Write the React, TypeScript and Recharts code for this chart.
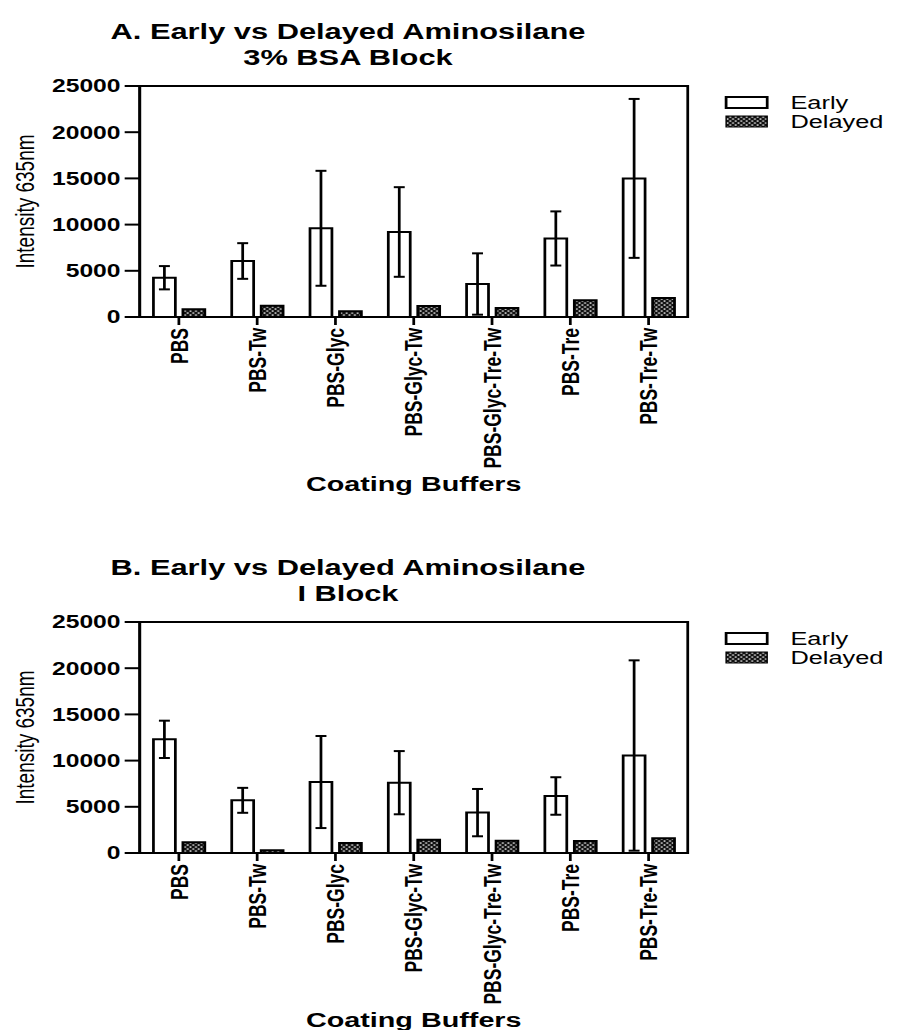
import React from 'react';
import { BarChart, Bar, XAxis, YAxis, ErrorBar, ReferenceArea, Label } from 'recharts';

const categories = ['PBS', 'PBS-Tw', 'PBS-Glyc', 'PBS-Glyc-Tw', 'PBS-Glyc-Tre-Tw', 'PBS-Tre', 'PBS-Tre-Tw'];

// A. 3% BSA block
const earlyA = [4250, 6060, 9600, 9200, 3570, 8500, 15000];
const earlyErrA = [1260, 1930, 6220, 4850, 3320, 2930, 8600];
const delayedA = [830, 1220, 620, 1190, 970, 1800, 2050];

// B. I block
const earlyB = [12300, 5700, 7680, 7610, 4370, 6170, 10550];
const earlyErrB = [2020, 1350, 4980, 3420, 2560, 2030, 10300];
const delayedB = [1150, 290, 1080, 1440, 1330, 1300, 1600];

const yTicks = [0, 5000, 10000, 15000, 20000, 25000];
const seriesNames = ['Early', 'Delayed'];

// the original figure is stretched horizontally, so draw narrow and scale x
const SX = 1.37;
const W = 654;
const PLOT_LEFT = 102;
const PLOT_RIGHT = 502;
const PLOT_TOP = 86;
const PLOT_BOTTOM = 317;
const X_AXIS_H = 170;
const TITLE_CX = 254;
const FONT = '"Liberation Sans", Arial, Helvetica, sans-serif';
const LINE = { stroke: '#000', strokeWidth: 2 };

function Hatch({ id }: { id: string }) {
  return (
    <pattern id={id} width={4} height={4} patternUnits="userSpaceOnUse">
      <rect width={4} height={4} fill="#111" />
      <rect x={0.4} y={0.4} width={1.3} height={1.3} fill="#fff" />
      <rect x={2.4} y={2.4} width={1.3} height={1.3} fill="#fff" />
    </pattern>
  );
}

function XTick(props: any) {
  const { x, y, payload } = props;
  return (
    <text
      x={x}
      y={y}
      transform={`rotate(-90, ${x}, ${y})`}
      textAnchor="end"
      dy="0.36em"
      fontFamily={FONT}
      fontWeight="bold"
      fontSize={17.5}
      fill="#000"
    >
      {payload.value}
    </text>
  );
}

interface PanelProps {
  id: string;
  title: string;
  subtitle: string;
  early: number[];
  earlyErr: number[];
  delayed: number[];
  top: number;
  height: number;
}

function Panel({ id, title, subtitle, early, earlyErr, delayed, top, height }: PanelProps) {
  const data = categories.map((name, i) => ({
    name,
    early: early[i],
    earlyErr: earlyErr[i],
    delayed: delayed[i],
  }));
  const patId = `hatch-${id}`;
  const legendPat = `hatch-legend-${id}`;

  return (
    <div
      style={{
        position: 'absolute',
        left: 0,
        top,
        width: W,
        height,
        transform: `scaleX(${SX})`,
        transformOrigin: '0 0',
      }}
    >
      <BarChart
        width={W}
        height={height}
        data={data}
        margin={{ top: PLOT_TOP, right: W - PLOT_RIGHT, bottom: height - PLOT_BOTTOM - X_AXIS_H, left: 8 }}
        barSize={16}
        barGap={5.5}
      >
        <defs>
          <Hatch id={patId} />
        </defs>
        <XAxis
          dataKey="name"
          interval={0}
          height={X_AXIS_H}
          tick={<XTick />}
          tickSize={8}
          tickMargin={3}
          tickLine={LINE}
          axisLine={LINE}
        >
          <Label
            content={(p: any) => {
              const vb = p.viewBox;
              return (
                <text
                  x={vb.x + vb.width / 2}
                  y={vb.y + 174}
                  textAnchor="middle"
                  fontFamily={FONT}
                  fontWeight="bold"
                  fontSize={21}
                  fill="#000"
                >
                  Coating Buffers
                </text>
              );
            }}
          />
        </XAxis>
        <YAxis
          width={PLOT_LEFT - 8}
          domain={[0, 25000]}
          ticks={yTicks}
          interval={0}
          tickSize={11}
          tickMargin={3}
          tickLine={LINE}
          axisLine={LINE}
          tick={{ fill: '#000', fontFamily: FONT, fontWeight: 'bold', fontSize: 18 }}
        >
          <Label
            content={(p: any) => {
              const vb = p.viewBox;
              const cy = vb.y + vb.height / 2;
              return (
                <text
                  x={18}
                  y={cy}
                  transform={`rotate(-90, 18, ${cy})`}
                  textAnchor="middle"
                  dy="0.36em"
                  fontFamily={FONT}
                  fontSize={19}
                  fill="#000"
                >
                  Intensity 635nm
                </text>
              );
            }}
          />
        </YAxis>
        <ReferenceArea y1={0} y2={25000} fill="none" fillOpacity={0} stroke="#000" strokeWidth={2} ifOverflow="visible" />
        <Bar dataKey="early" name={seriesNames[0]} fill="#fff" stroke="#000" strokeWidth={2} isAnimationActive={false}>
          <ErrorBar dataKey="earlyErr" direction="y" width={4} stroke="#000" strokeWidth={2} />
        </Bar>
        <Bar dataKey="delayed" name={seriesNames[1]} fill={`url(#${patId})`} stroke="#000" strokeWidth={2} isAnimationActive={false} />
      </BarChart>

      <svg width={W} height={140} style={{ position: 'absolute', left: 0, top: 0, pointerEvents: 'none' }}>
        <defs>
          <Hatch id={legendPat} />
        </defs>
        <text x={TITLE_CX} y={39} textAnchor="middle" fontFamily={FONT} fontWeight="bold" fontSize={22.5} fill="#000">
          {title}
        </text>
        <text x={TITLE_CX} y={65} textAnchor="middle" fontFamily={FONT} fontWeight="bold" fontSize={22.5} fill="#000">
          {subtitle}
        </text>
        <rect x={530} y={97} width={30} height={11} fill="#fff" stroke="#000" strokeWidth={2} />
        <text x={577} y={109} fontFamily={FONT} fontSize={18.5} fill="#000">
          {seriesNames[0]}
        </text>
        <rect x={530} y={116} width={30} height={11} fill={`url(#${legendPat})`} stroke="#000" strokeWidth={1} />
        <text x={577} y={128} fontFamily={FONT} fontSize={18.5} fill="#000">
          {seriesNames[1]}
        </text>
      </svg>
    </div>
  );
}

export default function App() {
  return (
    <div
      style={{
        position: 'fixed',
        left: 0,
        top: 0,
        width: 897,
        height: 1030,
        overflow: 'hidden',
        background: '#fff',
      }}
    >
      <Panel
        id="a"
        title="A. Early vs Delayed Aminosilane"
        subtitle="3% BSA Block"
        early={earlyA}
        earlyErr={earlyErrA}
        delayed={delayedA}
        top={0}
        height={536}
      />
      <Panel
        id="b"
        title="B. Early vs Delayed Aminosilane"
        subtitle="I Block"
        early={earlyB}
        earlyErr={earlyErrB}
        delayed={delayedB}
        top={536}
        height={494}
      />
    </div>
  );
}
